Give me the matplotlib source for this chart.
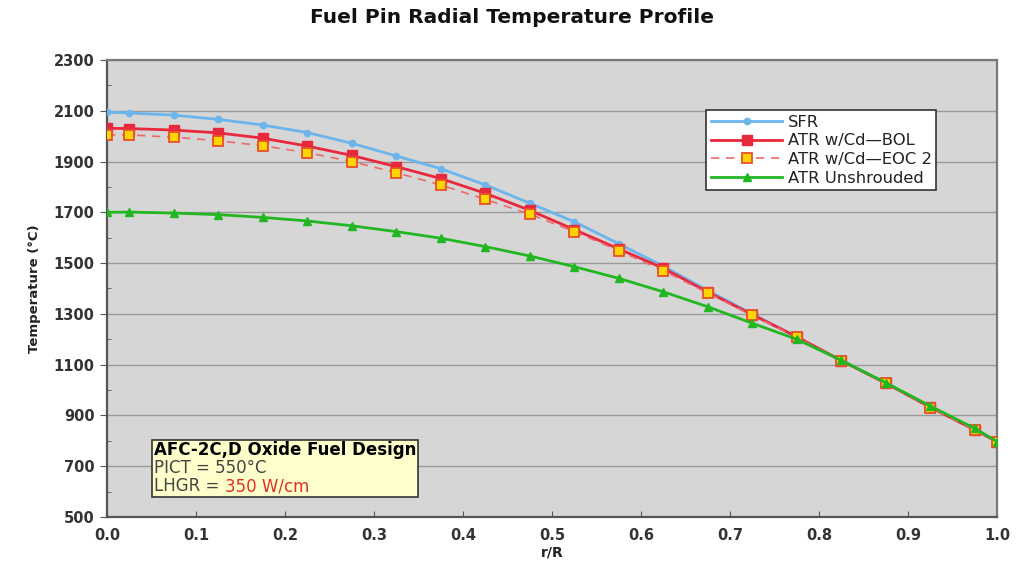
import matplotlib
matplotlib.use("Agg")
import matplotlib.pyplot as plt
from matplotlib.ticker import MultipleLocator, FixedLocator, FormatStrFormatter
from matplotlib.offsetbox import AnchoredOffsetbox, VPacker, HPacker, TextArea

# Radial positions (r/R)
r = [0.0, 0.025, 0.075, 0.125, 0.175, 0.225, 0.275, 0.325, 0.375, 0.425, 0.475,
     0.525, 0.575, 0.625, 0.675, 0.725, 0.775, 0.825, 0.875, 0.925, 0.975, 1.0]

# Temperature profiles (°C)
sfr = [2095, 2091, 2083, 2066, 2044, 2014, 1972, 1922, 1872, 1808, 1736,
       1663, 1576, 1488, 1392, 1300, 1208, 1116, 1027, 933, 843, 797]
atr_bol = [2031, 2030, 2024, 2013, 1992, 1961, 1924, 1880, 1833, 1775, 1708,
           1632, 1556, 1480, 1386, 1297, 1210, 1116, 1027, 932, 843, 797]
atr_eoc2 = [2005, 2005, 1996, 1982, 1962, 1935, 1900, 1856, 1808, 1751, 1693,
            1624, 1549, 1470, 1382, 1294, 1208, 1115, 1026, 931, 842, 797]
atr_unshrouded = [1700, 1701, 1697, 1691, 1680, 1666, 1647, 1624, 1598, 1565, 1528,
                  1486, 1440, 1387, 1328, 1263, 1200, 1117, 1029, 937, 849, 797]

y_ticks = list(range(500, 2301, 200))
x_ticks = [i / 10 for i in range(11)]

fig = plt.figure(figsize=(10.23, 5.65), dpi=100)
fig.patch.set_facecolor("white")
ax = fig.add_axes([0.1046, 0.085, 0.8700, 0.8088])
ax.set_facecolor("#d6d6d6")

ax.plot(r, sfr, color="#6cb4ec", lw=2.0, marker="o", ms=4.5,
        mfc="#6cb4ec", mec="#6cb4ec", label="SFR", zorder=3)
ax.plot(r, atr_bol, color="#e8283c", lw=2.0, marker="s", ms=7,
        mfc="#e8283c", mec="#e8283c", label="ATR w/Cd\u2014BOL", zorder=4)
ax.plot(r, atr_eoc2, color="#ee6a6a", lw=1.2, ls=(0, (5, 4)), marker="s", ms=6.5,
        mfc="#ffd400", mec="#e8502a", mew=1.3, label="ATR w/Cd\u2014EOC 2", zorder=5)
ax.plot(r, atr_unshrouded, color="#22b722", lw=2.0, marker="^", ms=6,
        mfc="#22b722", mec="#22b722", label="ATR Unshrouded", zorder=6)

ax.set_xlim(0, 1.0)
ax.set_ylim(500, 2300)
ax.xaxis.set_major_locator(FixedLocator(x_ticks))
ax.yaxis.set_major_locator(FixedLocator(y_ticks))
ax.yaxis.set_minor_locator(MultipleLocator(100))
ax.xaxis.set_major_formatter(FormatStrFormatter("%.1f"))
ax.grid(axis="y", which="major", color="#999999", lw=1.0, zorder=0)
ax.set_axisbelow(True)
ax.tick_params(axis="y", which="major", direction="out", length=5, color="#555555",
               labelsize=10.5, labelcolor="#333333", pad=4)
ax.tick_params(axis="y", which="minor", direction="in", length=3, color="#555555")
ax.tick_params(axis="x", which="major", direction="in", length=4, color="#555555",
               labelsize=10.5, labelcolor="#333333", pad=8)
for lab in ax.get_xticklabels() + ax.get_yticklabels():
    lab.set_fontweight("bold")
for s in ax.spines.values():
    s.set_color("#7a7a7a")
    s.set_linewidth(1.6)
ax.spines["left"].set_color("#555555")
ax.spines["bottom"].set_color("#555555")

ax.set_xlabel("r/R", fontsize=10, fontweight="bold", color="#222222", labelpad=2)
ax.set_ylabel("Temperature (\u00b0C)", fontsize=9.5, fontweight="bold", color="#222222",
              labelpad=9)
fig.suptitle("Fuel Pin Radial Temperature Profile", fontsize=14.5, fontweight="bold",
             color="#111111", y=0.985)

leg = ax.legend(loc="upper left", bbox_to_anchor=(0.6735, 0.891), fontsize=11.8,
                frameon=True, fancybox=False, edgecolor="#333333", framealpha=1.0,
                numpoints=1, handlelength=4.3, borderpad=0.3, labelspacing=0.22,
                handletextpad=0.35, borderaxespad=0)
leg.get_frame().set_linewidth(1.2)
for t in leg.get_texts():
    t.set_color("#222222")

# Design parameter note
fs = 12
line1 = TextArea("AFC-2C,D Oxide Fuel Design",
                 textprops=dict(fontsize=fs, fontweight="bold", color="black"))
line2 = TextArea("PICT = 550\u00b0C", textprops=dict(fontsize=fs, color="#444444"))
lhgr_a = TextArea("LHGR = ", textprops=dict(fontsize=fs, color="#444444"))
lhgr_b = TextArea("350 W/cm", textprops=dict(fontsize=fs, color="#e0302a"))
line3 = HPacker(children=[lhgr_a, lhgr_b], align="baseline", pad=0, sep=0)
box = VPacker(children=[line1, line2, line3], align="left", pad=0, sep=0)
anch = AnchoredOffsetbox(loc="lower left", child=box, pad=0.12, borderpad=0,
                         bbox_to_anchor=(0.051, 0.044), bbox_transform=ax.transAxes,
                         frameon=True)
anch.patch.set_facecolor("#ffffcc")
anch.patch.set_edgecolor("#333333")
anch.patch.set_linewidth(1.2)
ax.add_artist(anch)

fig.savefig("out.png", dpi=100)
